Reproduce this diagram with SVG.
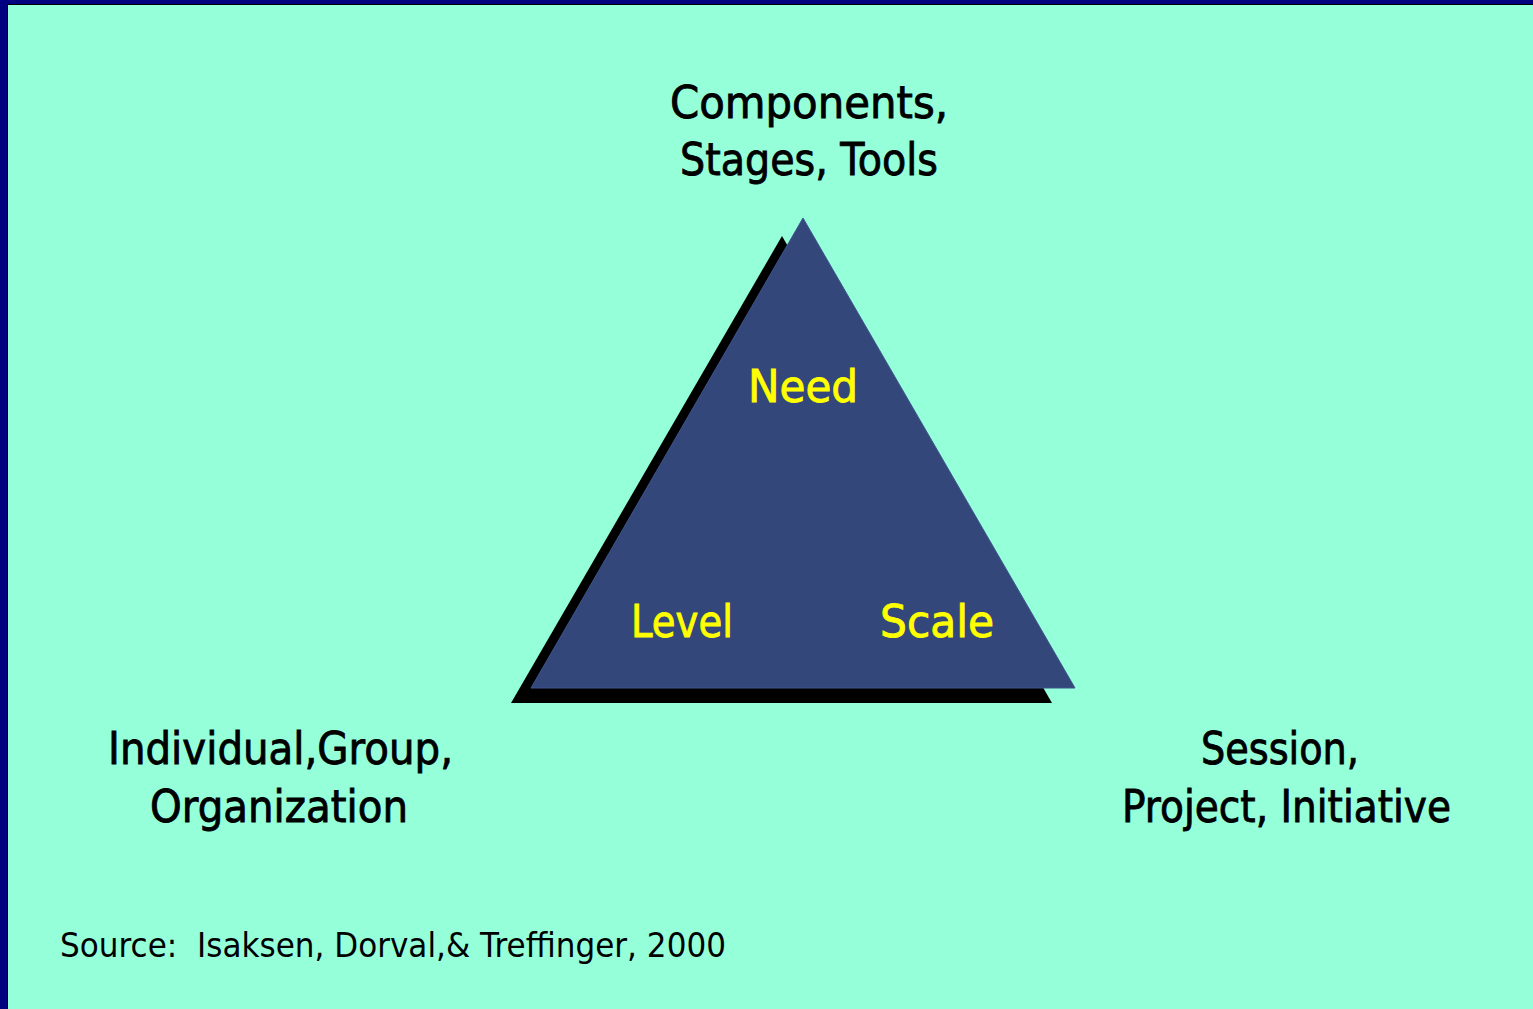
<svg xmlns="http://www.w3.org/2000/svg" width="1533" height="1009" viewBox="0 0 1533 1009">
  <style>
    .lbl { font-family: "DejaVu Sans", "Liberation Sans", sans-serif; font-size: 45px; fill: #000000; stroke: #000000; stroke-width: 0.9px; }
    .inner { font-family: "DejaVu Sans", "Liberation Sans", sans-serif; font-size: 45px; fill: #FFFF00; stroke: #FFFF00; stroke-width: 0.9px; }
    .src { font-family: "DejaVu Sans", "Liberation Sans", sans-serif; font-size: 34px; fill: #000000; }
  </style>
  <rect id="frame" x="0" y="0" width="1533" height="1009" fill="#000080"/>
  <rect id="background" x="7.5" y="4.5" width="1530" height="1010" fill="#95FFD9" stroke="#000000" stroke-width="1"/>

  <g id="triangle">
    <polygon points="782,236 511,703 1052,703" fill="#000000"/>
    <polygon points="803,218 531,688 1075,688" fill="#33477A" stroke="#3F5590" stroke-width="1"/>
  </g>

  <g id="node-need">
    <text class="inner" x="748" y="402" textLength="110" lengthAdjust="spacingAndGlyphs">Need</text>
  </g>
  <g id="node-level">
    <text class="inner" x="631" y="637" textLength="102" lengthAdjust="spacingAndGlyphs">Level</text>
  </g>
  <g id="node-scale">
    <text class="inner" x="880" y="637" textLength="114" lengthAdjust="spacingAndGlyphs">Scale</text>
  </g>

  <g id="node-top">
    <text class="lbl" x="670" y="118" textLength="278" lengthAdjust="spacingAndGlyphs">Components,</text>
    <text class="lbl" x="680" y="175" textLength="258" lengthAdjust="spacingAndGlyphs">Stages, Tools</text>
  </g>
  <g id="node-left">
    <text class="lbl" x="108" y="764" textLength="345" lengthAdjust="spacingAndGlyphs">Individual,Group,</text>
    <text class="lbl" x="150" y="822" textLength="258" lengthAdjust="spacingAndGlyphs">Organization</text>
  </g>
  <g id="node-right">
    <text class="lbl" x="1201" y="764" textLength="158" lengthAdjust="spacingAndGlyphs">Session,</text>
    <text class="lbl" x="1122" y="822" textLength="329" lengthAdjust="spacingAndGlyphs">Project, Initiative</text>
  </g>

  <g id="source">
    <text class="src" x="60" y="957" textLength="666" lengthAdjust="spacingAndGlyphs" xml:space="preserve">Source:  Isaksen, Dorval,&amp; Treffinger, 2000</text>
  </g>
</svg>
